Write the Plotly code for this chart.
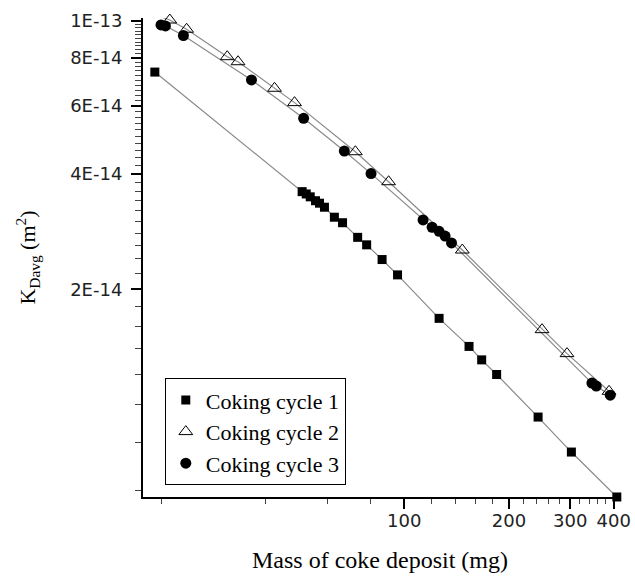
import plotly.graph_objects as go

# ---- data ----
cycle1_mass = [19.2, 50.9, 52.3, 53.7, 55.6, 57.1, 59.0, 63.0, 66.5, 73.5, 78.0, 86.4, 95.7,
               126.0, 153.6, 167.0, 184.4, 242.6, 302.4, 408.5]
cycle1_k = [7.35e-14, 3.59e-14, 3.54e-14, 3.48e-14, 3.40e-14, 3.35e-14, 3.27e-14, 3.08e-14,
            2.98e-14, 2.73e-14, 2.61e-14, 2.39e-14, 2.18e-14,
            1.68e-14, 1.42e-14, 1.31e-14, 1.20e-14, 9.30e-15, 7.54e-15, 5.76e-15]

cycle2_mass = [20.2, 21.2, 23.7, 31.0, 33.3, 42.4, 48.4, 72.4, 90.2, 146.9, 249.0, 293.8, 388.0]
cycle2_k = [1.02e-13, 1.004e-13, 9.50e-14, 8.06e-14, 7.82e-14, 6.67e-14, 6.12e-14, 4.56e-14,
            3.81e-14, 2.53e-14, 1.57e-14, 1.36e-14, 1.085e-14]

cycle3_mass = [20.0, 20.6, 23.2, 36.4, 51.4, 67.3, 80.3, 113.3, 120.3, 126.0, 131.1, 136.8,
               346.4, 356.6, 391.1]
cycle3_k = [9.75e-14, 9.69e-14, 9.15e-14, 7.01e-14, 5.57e-14, 4.58e-14, 4.00e-14, 3.03e-14,
            2.90e-14, 2.83e-14, 2.75e-14, 2.64e-14, 1.14e-14, 1.12e-14, 1.06e-14]

series_names = ["Coking cycle 1", "Coking cycle 2", "Coking cycle 3"]

x_tick_vals = [100, 200, 300, 400]
x_tick_text = ["100", "200", "300", "400"]
x_minor_vals = [20, 40, 60, 80] + list(range(120, 400, 20))

y_tick_vals = [2e-14, 4e-14, 6e-14, 8e-14, 1e-13]
y_tick_text = ["2E-14", "4E-14", "6E-14", "8E-14", "1E-13"]
y_minor_vals = [6e-15, 8e-15, 1e-14, 1.2e-14, 1.4e-14, 1.6e-14, 1.8e-14] + \
    [v * 1e-15 for v in range(22, 100, 2) if v not in (40, 60, 80)]

serif = "Liberation Serif, Times New Roman, serif"
sans = "DejaVu Sans, Arial, sans-serif"
line_col = "#8a8a8a"

fig = go.Figure()

series = [
    (cycle1_mass, cycle1_k, dict(symbol="square", size=9, color="black")),
    (cycle2_mass, cycle2_k, dict(symbol="triangle-up-open", size=12, color="black",
                                 line=dict(color="black", width=1))),
    (cycle3_mass, cycle3_k, dict(symbol="circle", size=11, color="black")),
]

for (xs, ys, mk), name in zip(series, series_names):
    fig.add_trace(go.Scatter(x=xs, y=ys, mode="lines", showlegend=False,
                             line=dict(color=line_col, width=1.2), hoverinfo="skip",
                             cliponaxis=False))
for (xs, ys, mk), name in zip(series, series_names):
    if "line" not in mk:
        mk = dict(mk, line=dict(width=0))
    fig.add_trace(go.Scatter(x=xs, y=ys, mode="markers", name=name, marker=mk,
                             cliponaxis=False))

fig.update_layout(
    width=635, height=576,
    margin=dict(l=143, r=18, t=18, b=79),
    paper_bgcolor="white", plot_bgcolor="white",
    showlegend=True,
    legend=dict(x=0.046, y=0.248, xanchor="left", yanchor="top",
                bgcolor="white", bordercolor="black", borderwidth=1,
                font=dict(family=serif, size=22, color="black"),
                tracegroupgap=0, itemwidth=30),
)

fig.update_xaxes(
    type="log", range=[1.2493, 2.6117], automargin=False,
    showline=True, linecolor="black", linewidth=2, mirror=False,
    showgrid=False, zeroline=False,
    tickmode="array", tickvals=x_tick_vals, ticktext=x_tick_text,
    ticks="outside", ticklen=10, tickwidth=1.5, tickcolor="black",
    ticklabelstandoff=-4,
    tickfont=dict(family=sans, size=18, color="#222"),
    minor=dict(tickmode="array", tickvals=x_minor_vals, ticks="outside",
               ticklen=5, tickwidth=1, tickcolor="#444", showgrid=False),
    title=dict(text="Mass of coke deposit (mg)", font=dict(family=serif, size=24, color="black"),
               standoff=22),
)

fig.update_yaxes(
    type="log", range=[-14.2396, -12.993], automargin=False,
    showline=True, linecolor="black", linewidth=2, mirror=False,
    showgrid=False, zeroline=False,
    tickmode="array", tickvals=y_tick_vals, ticktext=y_tick_text,
    ticks="outside", ticklen=10, tickwidth=1.5, tickcolor="black",
    ticklabelstandoff=5,
    tickfont=dict(family=sans, size=18, color="#222"),
    minor=dict(tickmode="array", tickvals=y_minor_vals, ticks="outside",
               ticklen=6, tickwidth=1, tickcolor="#444", showgrid=False),
    title=dict(text="K<sub>Davg</sub> (m<sup>2</sup>)", font=dict(family=serif, size=22, color="black"),
               standoff=28),
)

fig.write_html("out.html")
